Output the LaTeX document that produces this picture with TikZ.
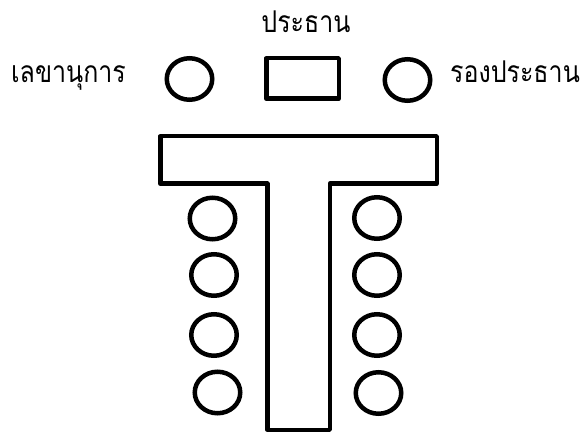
\documentclass[tikz,border=0pt]{standalone}
\usepackage{fontspec}
\newfontfamily\thaifont[Script=Thai]{Loma}
\usetikzlibrary{shapes.geometric}
\newcommand{\tallthai}[1]{\scalebox{1}[1.2]{#1}}
\begin{document}
\begin{tikzpicture}[x=1pt,y=-1pt,
  seat/.style={draw,ellipse,line width=4.5pt,inner sep=0pt,minimum width=45.5pt,minimum height=41.5pt},
  lbl/.style={font=\thaifont\fontsize{25}{30}\selectfont,inner sep=0pt,anchor=base},
  tbl/.style={draw,line width=4.5pt,line join=round}]
\useasboundingbox (0,0) rectangle (587,433);
% labels
\node[lbl] (chair) at (306,33) {\tallthai{ประธาน}};
\node[lbl] (sec) at (68.5,83) {\tallthai{เลขานุการ}};
\node[lbl] (vice) at (515,83) {\tallthai{รองประธาน}};
% top row
\node[seat] (s1) at (189.5,79) {};
\node[seat] (s2) at (407.5,80) {};
\draw[tbl] (266.25,58.25) rectangle (338.75,98.75);
% T table
\draw[tbl] (160.25,136.25) -- (436.75,136.25) -- (436.75,183.75) -- (329.75,183.75)
  -- (329.75,429.75) -- (267.25,429.75) -- (267.25,183.75) -- (160.25,183.75) -- cycle;
% left seats
\node[seat] (l1) at (212.5,218.5) {};
\node[seat] (l2) at (214,275) {};
\node[seat] (l3) at (214,335) {};
\node[seat] (l4) at (217.5,392.5) {};
% right seats
\node[seat] (r1) at (377,218) {};
\node[seat] (r2) at (377,275) {};
\node[seat] (r3) at (377,335) {};
\node[seat] (r4) at (378.5,393) {};
\end{tikzpicture}
\end{document}
